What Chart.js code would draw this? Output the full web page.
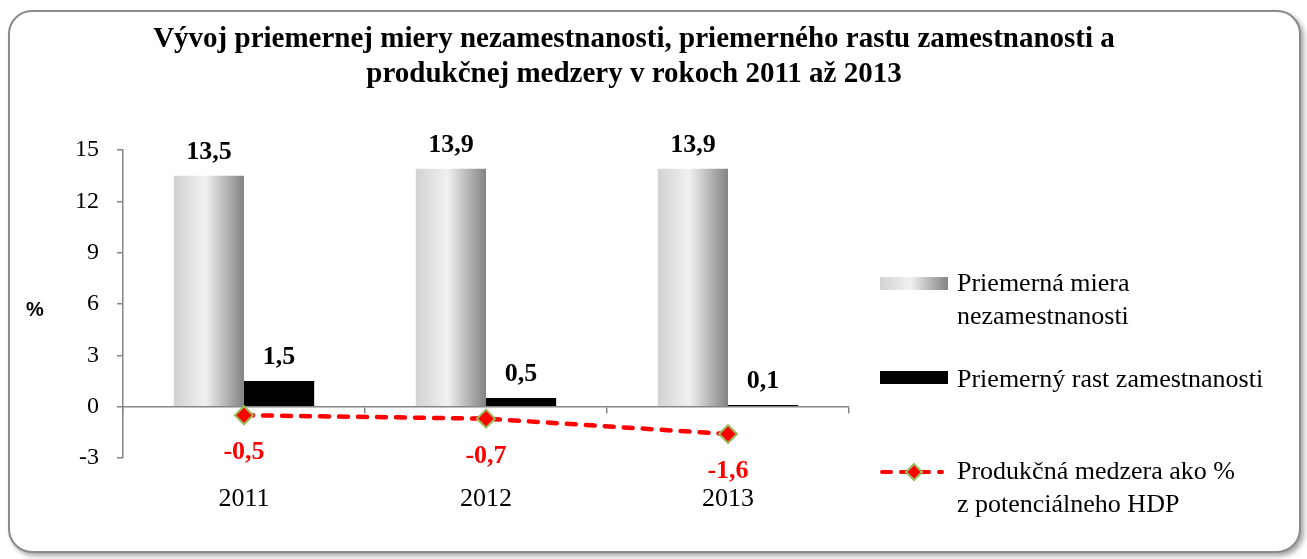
<!DOCTYPE html>
<html>
<head>
<meta charset="utf-8">
<script src="https://cdn.jsdelivr.net/npm/chart.js@4.4.1/dist/chart.umd.min.js"></script>
<style>
  html, body { margin: 0; padding: 0; background: #fff; }
  #wrap { position: relative; width: 1307px; height: 559px; overflow: hidden; }
  #frame { position: absolute; left: 8px; top: 10px; width: 1293px; height: 543px;
           border: 2px solid #8a8a8a; border-radius: 24px; background: #fff;
           box-shadow: 3px 3px 5px rgba(0,0,0,0.35); box-sizing: border-box; }
  #c { position: absolute; left: 0; top: 0; }
</style>
</head>
<body>
<div id="wrap">
  <div id="frame"></div>
  <canvas id="c" width="1307" height="559"></canvas>
</div>
<script>
// ---- data ----
const titleLines = ['Vývoj priemernej miery nezamestnanosti, priemerného rastu zamestnanosti a',
                    'produkčnej medzery v rokoch 2011 až 2013'];
const categories = ['2011', '2012', '2013'];
const unemploymentRate = [13.5, 13.9, 13.9];
const employmentGrowth = [1.5, 0.5, 0.1];
const outputGap = [-0.5, -0.7, -1.6];
const yTicks = [-3, 0, 3, 6, 9, 12, 15];
const seriesNames = [
  ['Priemerná miera', 'nezamestnanosti'],
  ['Priemerný rast zamestnanosti'],
  ['Produkčná medzera ako %', 'z potenciálneho HDP']
];
const yAxisLabel = '%';

const SERIF = '"Liberation Serif", "Times New Roman", serif';
const CAT_PCT = 0.58;

function grayGradient(ctx, x0, x1) {
  const g = ctx.createLinearGradient(x0, 0, x1, 0);
  g.addColorStop(0, '#d2d2d2');
  g.addColorStop(0.45, '#f1f1f1');
  g.addColorStop(0.7, '#bebebe');
  g.addColorStop(1, '#838383');
  return g;
}

function barBg(context) {
  const chart = context.chart;
  const xs = chart.scales.x;
  if (!xs || context.dataIndex === undefined) return '#d0d0d0';
  const cw = xs.width / categories.length;
  const c = xs.getPixelForValue(context.dataIndex);
  const w = cw * CAT_PCT / 2;
  if (!isFinite(c) || !isFinite(w) || w <= 0) return '#d0d0d0';
  return grayGradient(chart.ctx, c - w, c);
}

const overlay = {
  id: 'overlay',
  afterDatasetsDraw(chart) {
    const ctx = chart.ctx;
    ctx.save();
    ctx.textAlign = 'center';
    ctx.textBaseline = 'alphabetic';
    ctx.font = 'bold 26px ' + SERIF;
    ctx.fillStyle = '#000';
    [[0, unemploymentRate], [1, employmentGrowth]].forEach(([di, arr]) => {
      chart.getDatasetMeta(di).data.forEach((el, i) => {
        ctx.fillText(arr[i].toFixed(1).replace('.', ','), el.x, el.y - 17);
      });
    });
    ctx.fillStyle = '#ff0000';
    chart.getDatasetMeta(2).data.forEach((el, i) => {
      ctx.fillText(outputGap[i].toFixed(1).replace('.', ','), el.x, el.y + 44);
    });
    ctx.restore();
  },
  afterDraw(chart) {
    const ctx = chart.ctx;
    ctx.save();
    ctx.fillStyle = '#000';
    ctx.textAlign = 'center';
    ctx.textBaseline = 'alphabetic';
    ctx.font = 'bold 29px ' + SERIF;
    ctx.fillText(titleLines[0], 634, 47);
    ctx.fillText(titleLines[1], 634, 82);
    ctx.font = 'bold 20px "Liberation Sans", Arial, sans-serif';
    ctx.textBaseline = 'middle';
    ctx.fillText(yAxisLabel, 35, 310);
    ctx.textAlign = 'left';
    ctx.font = '26px ' + SERIF;
    const tx = 957;
    ctx.fillStyle = grayGradient(ctx, 880, 948);
    ctx.fillRect(880, 277, 68, 13);
    ctx.fillStyle = '#000';
    ctx.fillText(seriesNames[0][0], tx, 284);
    ctx.fillText(seriesNames[0][1], tx, 317);
    ctx.fillStyle = '#000';
    ctx.fillRect(880, 371, 68, 13);
    ctx.fillText(seriesNames[1][0], tx, 380);
    ctx.strokeStyle = '#ff0000';
    ctx.lineWidth = 4;
    ctx.lineCap = 'round';
    ctx.setLineDash([9, 10]);
    ctx.beginPath();
    ctx.moveTo(882, 472); ctx.lineTo(942, 472);
    ctx.stroke();
    ctx.setLineDash([]);
    ctx.beginPath();
    ctx.moveTo(914, 464); ctx.lineTo(922, 472); ctx.lineTo(914, 480); ctx.lineTo(906, 472); ctx.closePath();
    ctx.fillStyle = '#ff0000';
    ctx.fill();
    ctx.strokeStyle = '#9bbb59';
    ctx.lineWidth = 2;
    ctx.stroke();
    ctx.fillStyle = '#000';
    ctx.fillText(seriesNames[2][0], tx, 472);
    ctx.fillText(seriesNames[2][1], tx, 505);
    ctx.restore();
  }
};

new Chart(document.getElementById('c'), {
  type: 'bar',
  data: {
    labels: categories,
    datasets: [
      { label: seriesNames[0].join(' '), data: unemploymentRate, backgroundColor: barBg,
        categoryPercentage: CAT_PCT, barPercentage: 1, order: 2 },
      { label: seriesNames[1].join(' '), data: employmentGrowth, backgroundColor: '#000',
        categoryPercentage: CAT_PCT, barPercentage: 1, order: 2 },
      { type: 'line', label: seriesNames[2].join(' '), data: outputGap,
        borderColor: '#ff0000', borderWidth: 4.5, borderDash: [9, 10], borderCapStyle: 'round',
        pointStyle: 'rectRot', pointRadius: 9, pointBackgroundColor: '#ff0000',
        pointBorderColor: '#9bbb59', pointBorderWidth: 2, tension: 0, fill: false, order: 0 }
    ]
  },
  options: {
    responsive: false,
    animation: false,
    events: [],
    layout: { padding: { left: 0, right: 458, top: 150, bottom: 101 } },
    plugins: { legend: { display: false }, title: { display: false }, tooltip: { enabled: false } },
    scales: {
      x: {
        position: { y: 0 },
        offset: true,
        grid: { offset: true, drawOnChartArea: false, drawTicks: true, tickLength: 6, color: '#868686', lineWidth: 1.5 },
        border: { display: true, color: '#868686', width: 1.5 },
        ticks: { color: '#000', font: { family: SERIF, size: 26 }, padding: 71 }
      },
      y: {
        min: -3, max: 15,
        afterFit(scale) { scale.width = 123; },
        afterBuildTicks(scale) { scale.ticks = yTicks.map(v => ({ value: v })); },
        grid: { drawOnChartArea: false, drawTicks: true, tickLength: 6, color: '#868686', lineWidth: 1.5 },
        border: { display: true, color: '#868686', width: 1.5 },
        ticks: { color: '#000', font: { family: SERIF, size: 24 }, padding: 18 }
      }
    }
  },
  plugins: [overlay]
});
</script>
</body>
</html>
